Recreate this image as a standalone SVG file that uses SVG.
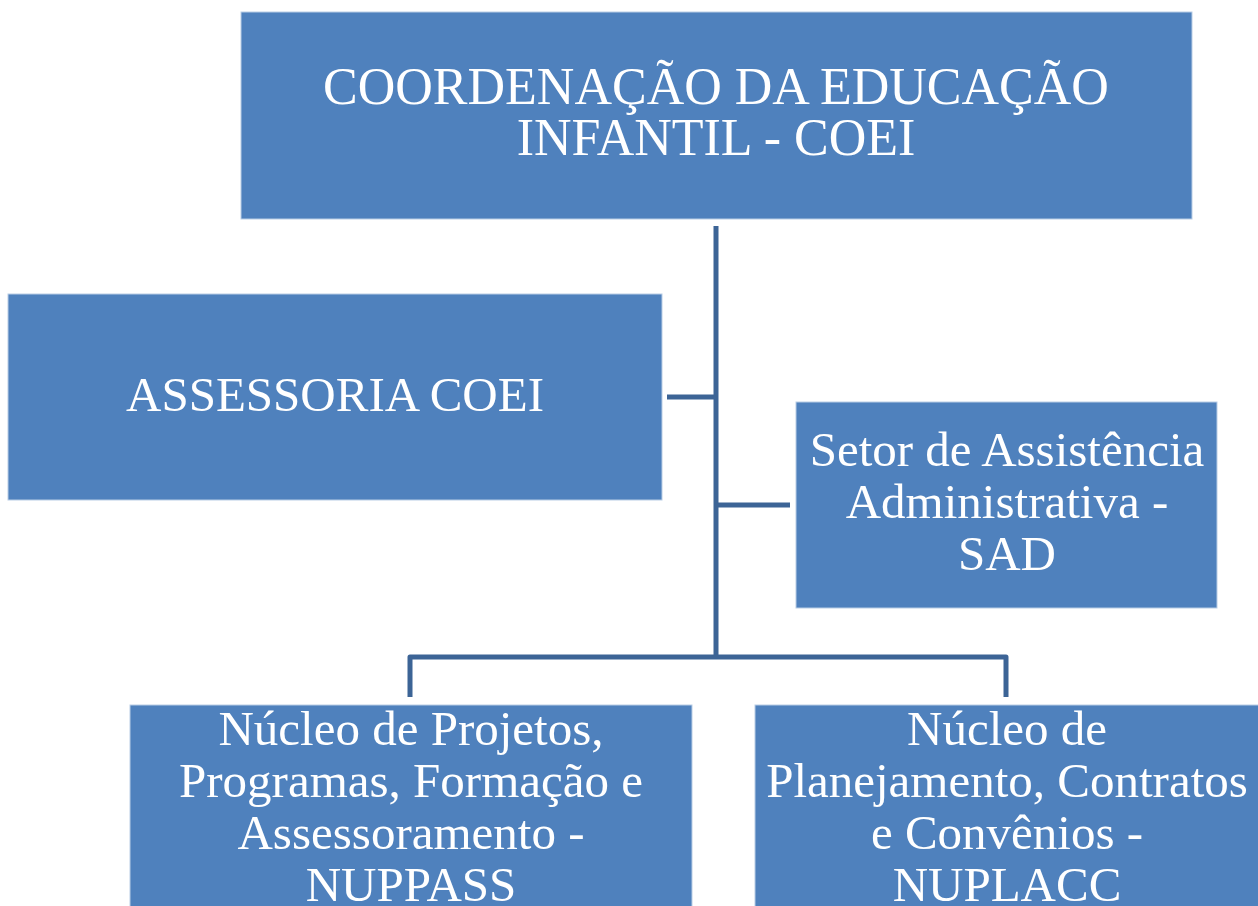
<svg xmlns="http://www.w3.org/2000/svg" width="1258" height="906" viewBox="0 0 1258 906">
<style>
.box{fill:#4F81BD;stroke:#B9CDE5;stroke-width:1}
.t{font-family:"Liberation Serif","Times New Roman",serif;font-size:49px;fill:#FFFFFF;text-anchor:middle}
.big{font-size:52px}
.c{fill:none;stroke:#3C6496;stroke-width:5;stroke-linejoin:round}
</style>
<rect width="1258" height="906" fill="#FFFFFF"/>
<g id="connectors">
<path class="c" d="M716,226 V657"/>
<path class="c" d="M667,397 H716"/>
<path class="c" d="M716,505 H790"/>
<path class="c" d="M410,697 V657 H1006 V697"/>
</g>
<g id="coei">
<rect class="box" x="241" y="12" width="951" height="207"/>
<text class="t big"><tspan x="716" y="104">COORDENAÇÃO DA EDUCAÇÃO</tspan><tspan x="716" y="155">INFANTIL - COEI</tspan></text>
</g>
<g id="assessoria">
<rect class="box" x="8" y="294" width="654" height="206"/>
<text class="t"><tspan x="335" y="411">ASSESSORIA COEI</tspan></text>
</g>
<g id="sad">
<rect class="box" x="796" y="402" width="421" height="206"/>
<text class="t"><tspan x="1007" y="466">Setor de Assistência</tspan><tspan x="1007" y="518">Administrativa -</tspan><tspan x="1007" y="570">SAD</tspan></text>
</g>
<g id="nuppass">
<rect class="box" x="130" y="705" width="562" height="210"/>
<text class="t"><tspan x="411" y="745">Núcleo de Projetos,</tspan><tspan x="411" y="797">Programas, Formação e</tspan><tspan x="411" y="849">Assessoramento -</tspan><tspan x="411" y="901">NUPPASS</tspan></text>
</g>
<g id="nuplacc">
<rect class="box" x="755" y="705" width="510" height="210"/>
<text class="t"><tspan x="1007" y="745">Núcleo de</tspan><tspan x="1007" y="797">Planejamento, Contratos</tspan><tspan x="1007" y="849">e Convênios -</tspan><tspan x="1007" y="901">NUPLACC</tspan></text>
</g>
</svg>
